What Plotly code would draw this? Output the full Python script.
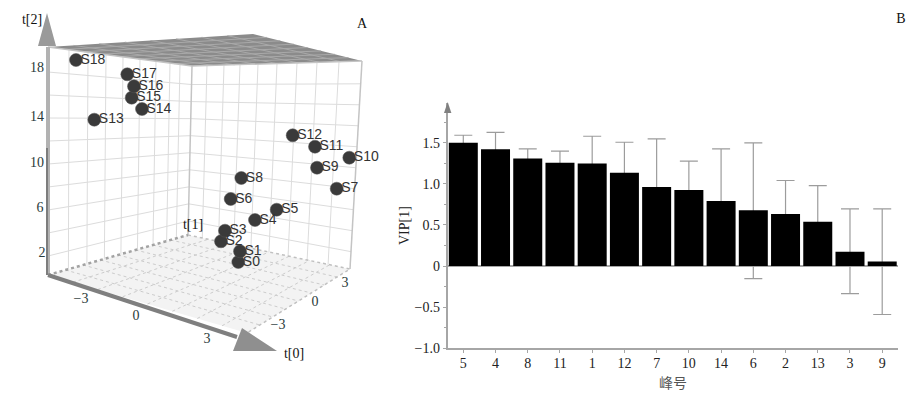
import plotly.graph_objects as go

W, H = 913, 394

# ---- Panel B data (VIP) ----
peaks = ["5", "4", "8", "11", "1", "12", "7", "10", "14", "6", "2", "13", "3", "9"]
vip = [1.50, 1.42, 1.307, 1.255, 1.247, 1.134, 0.96, 0.924, 0.79, 0.678, 0.634, 0.537, 0.174, 0.056]
vip_high = [1.59, 1.625, 1.425, 1.396, 1.578, 1.505, 1.545, 1.275, 1.425, 1.497, 1.04, 0.977, 0.694, 0.694]
vip_low = [0.5, 0.5, 0.5, 0.5, 0.5, 0.5, 0.5, 0.5, 0.5, -0.153, 0.3, 0.3, -0.335, -0.589]
vip_ticks = [-1.0, -0.5, 0, 0.5, 1.0, 1.5]
vip_ticktext = ["\u22121.0", "\u22120.5", "0", "0.5", "1.0", "1.5"]

# ---- Panel A data: projected position of each sample on the picture plane ----
samples = ["S0", "S1", "S2", "S3", "S4", "S5", "S6", "S7", "S8", "S9", "S10",
           "S11", "S12", "S13", "S14", "S15", "S16", "S17", "S18"]
proj_x = [238.3, 240, 221, 225, 255, 276.7, 230.7, 336.7, 241.3, 317, 349.3,
          315, 292.7, 94.3, 142, 131.7, 134, 127.3, 76]
proj_y = [262, 251.3, 241.3, 230.7, 220, 209.7, 199, 188.7, 178, 167.7, 157.7,
          146.7, 135.3, 119.7, 109, 97.7, 86.3, 74.3, 60]

# Axis tick labels of the 3-D box, at their projected positions
box_labels = ["18", "14", "10", "6", "2", "\u22123", "0", "3", "3", "0", "\u22123"]
box_label_x = [37, 37, 37, 40, 42, 81, 136, 207, 345, 315, 278]
box_label_y = [68, 117, 163, 208, 253, 299, 316, 339, 283, 302, 325]
axis_names = ["t[2]", "t[1]", "t[0]", "A", "B"]
axis_name_x = [32, 193, 294, 362, 901]
axis_name_y = [20, 225, 354, 24, 19]

# Box corners on the picture plane
LT, LB = (48, 47), (48, 275)
BT, BB = (192, 66), (188, 235)
RT, RB = (362, 61), (350, 269)
FF = (247, 333)
CF = (253, 34)
left_h = [72, 95, 118, 141, 164, 187, 210, 233, 256]
left_v = [69, 88, 106, 123, 140, 156, 170, 180]
right_v = [207, 224, 240, 258, 277, 297, 317, 339]


def lerp(a, b, t):
    return (a[0] + (b[0] - a[0]) * t, a[1] + (b[1] - a[1]) * t)


def segs(pairs):
    xs, ys = [], []
    for p, q in pairs:
        xs += [p[0], q[0], None]
        ys += [p[1], q[1], None]
    return xs, ys


def quad_grid(a, b, c, d, n):
    """Grid of n divisions inside the quad a-b-c-d."""
    out = []
    for i in range(1, n):
        t = i / n
        out.append((lerp(a, b, t), lerp(d, c, t)))
        out.append((lerp(a, d, t), lerp(b, c, t)))
    return out


wall_pairs = []
for y in left_h:
    f = (y - LT[1]) / (LB[1] - LT[1])
    p, q, r = lerp(LT, LB, f), lerp(BT, BB, f), lerp(RT, RB, f)
    wall_pairs += [(p, q), (q, r)]
for x in left_v:
    g = (x - LT[0]) / (BT[0] - LT[0])
    wall_pairs.append((lerp(LT, BT, g), lerp(LB, BB, g)))
for x in right_v:
    g = (x - BT[0]) / (RT[0] - BT[0])
    wall_pairs.append((lerp(BT, RT, g), lerp(BB, RB, g)))
wall_x, wall_y = segs(wall_pairs)
edge_x, edge_y = segs([(BT, BB), (RT, RB), (LT, BT), (BT, RT)])
floor_x, floor_y = segs(quad_grid(LB, BB, RB, FF, 8))
ceil_x, ceil_y = segs(quad_grid(LT, CF, RT, BT, 8))


def line(xs, ys, color, width, dash="solid"):
    return go.Scatter(x=xs, y=ys, mode="lines", xaxis="x3", yaxis="y3", hoverinfo="skip",
                      connectgaps=False, line=dict(color=color, width=width, dash=dash))


def poly(pts, color):
    return go.Scatter(x=[p[0] for p in pts] + [pts[0][0]], y=[p[1] for p in pts] + [pts[0][1]],
                      mode="lines", fill="toself", fillcolor=color, line=dict(width=0),
                      xaxis="x3", yaxis="y3", hoverinfo="skip")


fig = go.Figure()

# --- Panel B: whiskers under the bars ---
fig.add_trace(go.Scatter(
    x=peaks, y=vip, mode="markers", marker=dict(size=1, opacity=0), hoverinfo="skip",
    error_y=dict(type="data", symmetric=False,
                 array=[h - v for h, v in zip(vip_high, vip)],
                 arrayminus=[v - l for v, l in zip(vip, vip_low)],
                 color="#9c9c9c", thickness=1.2, width=9),
    xaxis="x", yaxis="y"))
fig.add_trace(go.Bar(x=peaks, y=vip, width=0.9, marker=dict(color="#000000", line=dict(width=0)),
                     xaxis="x2", yaxis="y2", hoverinfo="skip"))

# --- Panel A: the box ---
fig.add_trace(poly([LB, BB, RB, FF], "#f3f3f3"))
fig.add_trace(poly([LT, CF, RT, BT], "#8b8b8b"))
fig.add_trace(line(ceil_x, ceil_y, "#a9a9a9", 1))
fig.add_trace(line(wall_x, wall_y, "#dcdcdc", 1))
fig.add_trace(line(edge_x, edge_y, "#c4c4c4", 1.5))
fig.add_trace(line(floor_x, floor_y, "#cccccc", 1, "dot"))
fig.add_trace(line([BB[0], RB[0], FF[0]], [BB[1], RB[1], FF[1]], "#c0c0c0", 1.5, "dot"))
fig.add_trace(line([LB[0], BB[0]], [LB[1], BB[1]], "#a3a3a3", 2.5, "dot"))
fig.add_trace(line([LB[0], LT[0]], [LB[1], LT[1]], "#b2b2b2", 4))
fig.add_trace(line([47, 47], [275, 148], "#7d7d7d", 2))
fig.add_trace(line([LB[0], 237], [LB[1], 337], "#7f7f7f", 4))
fig.add_trace(poly([(47, 13), (38, 46), (56, 46)], "#9a9a9a"))
fig.add_trace(poly([(242, 328), (233, 351), (277, 351)], "#8f8f8f"))
# Panel B axis arrow
fig.add_trace(poly([(447.7, 102), (444, 113), (451.4, 113)], "#808080"))

# --- Panel A: samples ---
fig.add_trace(go.Scatter(
    x=proj_x, y=proj_y, mode="markers",
    marker=dict(size=13, color="#3a3a3a", line=dict(width=0.5, color="#555555")),
    xaxis="x3", yaxis="y3", hoverinfo="skip"))
fig.add_trace(go.Scatter(
    x=[v + 4.5 for v in proj_x], y=proj_y, text=samples, mode="text", textposition="middle right",
    textfont=dict(family="Liberation Sans", size=14, color="#333333"),
    xaxis="x3", yaxis="y3", hoverinfo="skip"))
fig.add_trace(go.Scatter(
    x=box_label_x, y=box_label_y, text=box_labels, mode="text", textposition="middle center",
    textfont=dict(family="Liberation Serif", size=14, color="#2a3a3a"),
    xaxis="x3", yaxis="y3", hoverinfo="skip"))
fig.add_trace(go.Scatter(
    x=axis_name_x, y=axis_name_y, text=axis_names, mode="text", textposition="middle center",
    textfont=dict(family="Liberation Serif", size=14, color="#111111"),
    xaxis="x3", yaxis="y3", hoverinfo="skip"))

y_range = [-1.0, 1.982]
x_range = [-0.484, 13.49]
dom_x = [447.7 / W, 898 / W]
dom_y = [1 - 348.3 / H, 1 - 103 / H]
gray = "#a6a6a6"

fig.update_layout(
    template="none",
    width=W, height=H, margin=dict(l=0, r=0, t=0, b=0, pad=0),
    paper_bgcolor="white", plot_bgcolor="rgba(0,0,0,0)", showlegend=False,
    font=dict(family="Liberation Serif", size=14, color="#222222"),
    xaxis=dict(domain=dom_x, range=x_range, type="category", categoryorder="array",
               categoryarray=peaks, anchor="y", showgrid=False, zeroline=False, automargin=False,
               showline=True, linecolor=gray, linewidth=2, ticks="outside", ticklen=3,
               ticklabelstandoff=-2,
               tickcolor=gray, tickfont=dict(family="Liberation Serif", size=14, color="#222222")),
    yaxis=dict(domain=dom_y, range=y_range, anchor="x", showgrid=False, zeroline=True, automargin=False,
               zerolinecolor=gray, zerolinewidth=1.5, showline=True, linecolor=gray, linewidth=2,
               tickvals=vip_ticks, ticktext=vip_ticktext, ticks="outside", ticklen=3,
               tickcolor=gray, tickfont=dict(family="Liberation Serif", size=14, color="#222222"),
               minor=dict(tickvals=[-0.75, -0.25, 0.25, 0.75, 1.25, 1.75], ticks="outside",
                          ticklen=2, tickcolor=gray)),
    xaxis2=dict(domain=dom_x, range=x_range, type="category", categoryorder="array",
                categoryarray=peaks, overlaying="x", anchor="y2", visible=False),
    yaxis2=dict(domain=dom_y, range=y_range, overlaying="y", anchor="x2", visible=False),
    xaxis3=dict(domain=[0, 1], range=[0, W], anchor="y3", visible=False, automargin=False),
    yaxis3=dict(domain=[0, 1], range=[H, 0], anchor="x3", visible=False, automargin=False),
    annotations=[
        dict(text="VIP[1]", xref="paper", yref="paper", x=404 / W, y=1 - 226 / H, showarrow=False,
             xanchor="center", yanchor="middle", textangle=-90,
             font=dict(family="Liberation Serif", size=14, color="#222222")),
        dict(text="峰号", xref="paper", yref="paper", x=673 / W, y=1 - 382 / H, showarrow=False,
             xanchor="center", yanchor="middle",
             font=dict(family="Noto Sans CJK SC", size=14, color="#555555")),
    ],
)

fig.write_html("out.html", config={"displayModeBar": False},
               post_script="document.body.style.margin='0';")
